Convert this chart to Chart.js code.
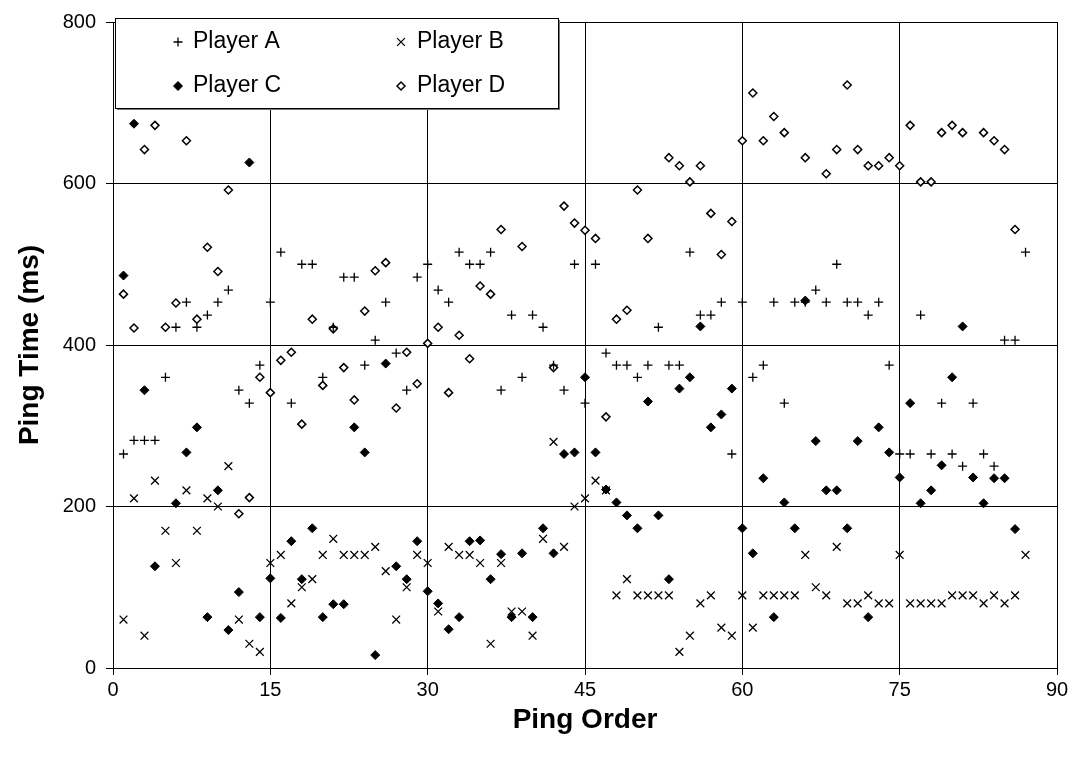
<!DOCTYPE html>
<html>
<head>
<meta charset="utf-8">
<title>Ping Time</title>
<script src="https://cdn.jsdelivr.net/npm/chart.js@4/dist/chart.umd.min.js"></script>
<style>
    html, body { margin: 0; padding: 0; background: #fff; }
    #wrap { width: 1078px; height: 762px; }
</style>
</head>
<body>
<div id="wrap"><canvas id="pingChart" width="1078" height="762"></canvas></div>
<script>
// Datos (ping order 1..87, null = sin respuesta)
const pingOrderTicks = [0, 15, 30, 45, 60, 75, 90];
const pingTimeTicks = [0, 200, 400, 600, 800];
const playerNames = ['Player A', 'Player B', 'Player C', 'Player D'];

const playerA = [
    265, 282, 282, 282, 360, 422, 453, 422, 437, 453,
    468, 344, 328, 375, 453, 515, 328, 500, 500, 360,
    422, 484, 484, 375, 406, 453, 390, 344, 484, 500,
    468, 453, 515, 500, 500, 515, 344, 437, 360, 437,
    422, 375, 344, 500, 328, 500, 390, 375, 375, 360,
    375, 422, 375, 375, 515, 437, 437, 453, 265, 453,
    360, 375, 453, 328, 453, 453, 468, 453, 500, 453,
    453, 437, 453, 375, 265, 265, 437, 265, 328, 265,
    250, 328, 265, 250, 406, 406, 515
];
const playerB = [
    60, 210, 40, 232, 170, 130, 220, 170, 210, 200,
    250, 60, 30, 20, 130, 140, 80, 100, 110, 140,
    160, 140, 140, 140, 150, 120, 60, 100, 140, 130,
    70, 150, 140, 140, 130, 30, 130, 70, 70, 40,
    160, 280, 150, 200, 210, 232, 220, 90, 110, 90,
    90, 90, 90, 20, 40, 80, 90, 50, 40, 90,
    50, 90, 90, 90, 90, 140, 100, 90, 150, 80,
    80, 90, 80, 80, 140, 80, 80, 80, 80, 90,
    90, 90, 80, 90, 80, 90, 140
];
const playerC = [
    486, 674, 344, 126, null, 204, 267, 298, 63, 220,
    47, 94, 626, 63, 111, 62, 157, 110, 173, 63,
    79, 79, 298, 267, 16, 377, 126, 110, 157, 95,
    80, 48, 63, 157, 158, 110, 141, 63, 142, 63,
    173, 142, 265, 267, 360, 267, 221, 205, 189, 173,
    330, 189, 110, 346, 360, 423, 298, 314, 346, 173,
    142, 235, 63, 205, 173, 455, 281, 220, 220, 173,
    281, 63, 298, 267, 236, 328, 204, 220, 251, 360,
    423, 236, 204, 235, 235, 172, null
];
const playerD = [
    463, 421, 642, 672, 422, 452, 653, 432, 521, 491,
    592, 191, 211, 360, 341, 381, 391, 302, 432, 350,
    420, 372, 332, 442, 492, 502, 322, 391, 352, 402,
    422, 341, 412, 383, 473, 463, 543, null, 522, null,
    null, 372, 572, 551, 542, 532, 311, 432, 443, 592,
    532, null, 632, 622, 602, 622, 563, 512, 553, 653,
    712, 653, 683, 663, null, 632, null, 612, 642, 722,
    642, 622, 622, 632, 622, 672, 602, 602, 663, 672,
    663, null, 663, 653, 642, 543, null
];

const FONT = '"Liberation Sans", Arial, sans-serif';

class PingChart {
    constructor() {
        this.chart = null;
        this.init();
    }

    init() {
        try {
            this.render();
        } catch (error) {
            console.error('Error al dibujar:', error);
        }
    }

    toPoints(values) {
        return values
            .map((v, i) => ({ x: i + 1, y: v }))
            .filter(p => p.y !== null);
    }

    buildDatasets() {
        return [
            {
                label: playerNames[0],
                data: this.toPoints(playerA),
                pointStyle: 'cross',
                pointRadius: 4.5,
                borderColor: '#000',
                backgroundColor: '#000',
                pointBorderWidth: 1.3
            },
            {
                label: playerNames[1],
                data: this.toPoints(playerB),
                pointStyle: 'crossRot',
                pointRadius: 5.5,
                borderColor: '#000',
                backgroundColor: '#000',
                pointBorderWidth: 1.3
            },
            {
                label: playerNames[2],
                data: this.toPoints(playerC),
                pointStyle: 'rectRot',
                pointRadius: 4.5,
                borderColor: '#000',
                backgroundColor: '#000',
                pointBorderWidth: 1
            },
            {
                label: playerNames[3],
                data: this.toPoints(playerD),
                pointStyle: 'rectRot',
                pointRadius: 4,
                borderColor: '#000',
                backgroundColor: '#fff',
                pointBorderWidth: 1.5
            }
        ];
    }

    // Leyenda en recuadro sobre el área del gráfico
    legendPlugin() {
        return {
            id: 'legendBox',
            afterDatasetsDraw(chart) {
                const ctx = chart.ctx;
                const box = { x: 115, y: 18, w: 443, h: 90 };
                ctx.save();
                ctx.fillStyle = '#777';
                ctx.fillRect(box.x + 2, box.y + 2, box.w, box.h);
                ctx.fillStyle = '#fff';
                ctx.fillRect(box.x, box.y, box.w, box.h);
                ctx.strokeStyle = '#000';
                ctx.lineWidth = 1;
                ctx.strokeRect(box.x + 0.5, box.y + 0.5, box.w, box.h);

                const slots = [
                    { mx: 178, tx: 193, y: 42 },
                    { mx: 401, tx: 417, y: 42 },
                    { mx: 178, tx: 193, y: 86 },
                    { mx: 401, tx: 417, y: 86 }
                ];
                ctx.font = '23px ' + FONT;
                ctx.textBaseline = 'middle';
                ctx.textAlign = 'left';
                chart.data.datasets.forEach((ds, i) => {
                    const s = slots[i];
                    ctx.strokeStyle = ds.borderColor;
                    ctx.fillStyle = ds.backgroundColor;
                    ctx.lineWidth = ds.pointBorderWidth;
                    Chart.helpers.drawPoint(ctx, {
                        pointStyle: ds.pointStyle,
                        rotation: 0,
                        radius: ds.pointRadius,
                        borderWidth: ds.pointBorderWidth
                    }, s.mx, s.y);
                    ctx.fillStyle = '#000';
                    ctx.fillText(ds.label, s.tx, s.y);
                });
                ctx.restore();
            }
        };
    }

    axis(min, max, ticks, title, titlePadding, tickPadding, fit) {
        return {
            type: 'linear',
            min: min,
            max: max,
            afterBuildTicks: (scale) => {
                scale.ticks = ticks.map(v => ({ value: v }));
            },
            afterFit: fit,
            grid: {
                color: '#000',
                lineWidth: 1,
                drawTicks: true,
                tickLength: 7,
                tickColor: '#000'
            },
            border: { display: true, color: '#000', width: 1 },
            ticks: {
                color: '#000',
                padding: tickPadding,
                font: { family: FONT, size: 20 }
            },
            title: {
                display: true,
                text: title,
                color: '#000',
                padding: titlePadding,
                font: { family: FONT, size: 28, weight: 'bold' }
            }
        };
    }

    render() {
        const ctx = document.getElementById('pingChart');
        if (!ctx) return;

        this.chart = new Chart(ctx, {
            type: 'scatter',
            data: { datasets: this.buildDatasets() },
            plugins: [this.legendPlugin()],
            options: {
                responsive: false,
                animation: false,
                devicePixelRatio: 1,
                layout: { padding: { top: 20, right: 21, left: 0, bottom: 0 } },
                plugins: {
                    legend: { display: false },
                    tooltip: { enabled: false }
                },
                scales: {
                    x: this.axis(0, 90, pingOrderTicks, 'Ping Order',
                        { top: 0, bottom: 25 }, 3,
                        (scale) => { scale.height = 94; }),
                    y: this.axis(0, 800, pingTimeTicks, 'Ping Time (ms)',
                        { top: 13, bottom: 0 }, 10,
                        (scale) => { scale.width = 113; })
                }
            }
        });
    }
}

document.addEventListener('DOMContentLoaded', () => {
    new PingChart();
});
</script>
</body>
</html>
